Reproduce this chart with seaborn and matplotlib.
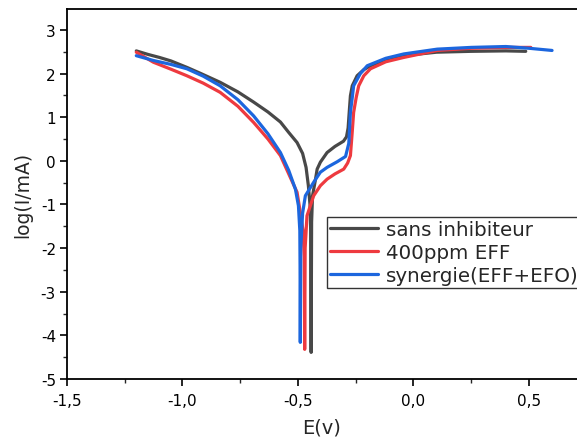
import matplotlib
matplotlib.use("Agg")
import matplotlib.pyplot as plt
from matplotlib.ticker import MultipleLocator, FuncFormatter
import numpy as np
import pandas as pd
import seaborn as sns

# Polarisation curves: potential E (V) and log of current density
E_sans = [-1.20, -1.15, -1.10, -1.05, -0.98, -0.92, -0.837, -0.76, -0.693, -0.63,
          -0.576, -0.54, -0.504, -0.48, -0.465, -0.455, -0.448, -0.445, -0.443,
          -0.441, -0.437, -0.425, -0.417, -0.403, -0.374, -0.34, -0.303, -0.29,
          -0.283, -0.277, -0.273, -0.265, -0.244, -0.215, -0.186, -0.12, -0.043,
          0.10, 0.25, 0.40, 0.486]
logI_sans = [2.52, 2.44, 2.37, 2.29, 2.14, 2.00, 1.80, 1.58, 1.35, 1.12,
             0.89, 0.65, 0.42, 0.17, -0.15, -0.57, -1.00, -1.60, -4.39,
             -1.40, -0.80, -0.45, -0.19, -0.03, 0.19, 0.33, 0.45, 0.55,
             0.75, 1.20, 1.49, 1.72, 1.95, 2.09, 2.18, 2.31, 2.41,
             2.49, 2.51, 2.52, 2.51]

E_eff = [-1.20, -1.126, -1.05, -0.981, -0.91, -0.837, -0.76, -0.692, -0.63, -0.576,
         -0.54, -0.504, -0.49, -0.478, -0.473, -0.471, -0.469, -0.461, -0.432,
         -0.403, -0.374, -0.34, -0.302, -0.285, -0.273, -0.266, -0.259, -0.248,
         -0.237, -0.215, -0.186, -0.12, -0.042, 0.103, 0.25, 0.40, 0.508]
logI_eff = [2.49, 2.26, 2.10, 1.95, 1.78, 1.57, 1.25, 0.88, 0.50, 0.12,
            -0.30, -0.72, -1.18, -1.60, -2.20, -4.32, -2.00, -1.26, -0.80,
            -0.57, -0.42, -0.30, -0.19, -0.05, 0.12, 0.60, 1.11, 1.45,
            1.72, 1.95, 2.11, 2.27, 2.37, 2.53, 2.58, 2.60, 2.60]

E_syn = [-1.20, -1.126, -1.05, -0.981, -0.91, -0.837, -0.76, -0.692, -0.63, -0.576,
         -0.54, -0.511, -0.498, -0.492, -0.491, -0.490, -0.488, -0.480, -0.468,
         -0.432, -0.403, -0.374, -0.33, -0.294, -0.280, -0.273, -0.265, -0.259,
         -0.23, -0.200, -0.12, -0.042, 0.103, 0.25, 0.40, 0.50, 0.60]
logI_syn = [2.41, 2.30, 2.21, 2.11, 1.94, 1.72, 1.40, 1.03, 0.62, 0.19,
            -0.22, -0.65, -1.03, -1.60, -2.40, -4.16, -2.00, -1.20, -0.80,
            -0.49, -0.26, -0.15, -0.02, 0.10, 0.40, 1.11, 1.45, 1.72,
            2.00, 2.18, 2.35, 2.45, 2.56, 2.60, 2.62, 2.58, 2.53]

series_names = ["sans inhibiteur", "400ppm EFF", "synergie(EFF+EFO)"]
series_colors = ["#484848", "#ee3a3f", "#1c66de"]

x_ticks = [-1.5, -1.0, -0.5, 0.0, 0.5]
y_ticks = [-5, -4, -3, -2, -1, 0, 1, 2, 3]

frames = []
for name, E, L in zip(series_names, [E_sans, E_eff, E_syn],
                      [logI_sans, logI_eff, logI_syn]):
    frames.append(pd.DataFrame({"E": E, "logI": L, "serie": name,
                                "order": np.arange(len(E))}))
df = pd.concat(frames, ignore_index=True)

sns.set_style("white")
plt.rcParams["font.family"] = ["DejaVu Sans"]
plt.rcParams["axes.unicode_minus"] = False

fig = plt.figure(figsize=(5.77, 4.39), dpi=100)
ax = fig.add_axes([67 / 577, (439 - 380) / 439, (577 - 67) / 577, 370 / 439])

sns.lineplot(data=df, x="E", y="logI", hue="serie", hue_order=series_names,
             palette=series_colors, sort=False, estimator=None, units="serie",
             linewidth=2.3, ax=ax, legend=True)

ax.set_xlim(-1.5, 0.708)
ax.set_ylim(-5, 3.48)
ax.set_xticks(x_ticks)
ax.set_yticks(y_ticks)
ax.xaxis.set_minor_locator(MultipleLocator(0.25))
ax.yaxis.set_minor_locator(MultipleLocator(0.5))
ax.xaxis.set_major_formatter(FuncFormatter(lambda v, p: f"{v:.1f}".replace(".", ",")))
ax.yaxis.set_major_formatter(FuncFormatter(lambda v, p: f"{v:.0f}"))

ax.tick_params(axis="both", which="major", direction="out", length=5, width=1.2,
               labelsize=11, colors="black", bottom=True, left=True,
               top=False, right=False, pad=3)
ax.tick_params(axis="x", which="major", pad=5)
ax.tick_params(axis="both", which="minor", direction="out", length=3, width=1.0,
               bottom=True, left=True, top=False, right=False)

for side in ["left", "bottom", "top"]:
    ax.spines[side].set_visible(True)
    ax.spines[side].set_color("black")
    ax.spines[side].set_linewidth(1.3)
ax.spines["right"].set_visible(False)

ax.set_xlabel("E(v)", fontsize=14, labelpad=7)
ax.set_ylabel("log(I/mA)", fontsize=13.5, labelpad=6)

leg = ax.legend(loc="upper left", bbox_to_anchor=(327 / 577, 1 - 218 / 439),
                bbox_transform=fig.transFigure, fontsize=14.3, frameon=True,
                fancybox=False, edgecolor="black", handlelength=2.4,
                borderpad=0.15, labelspacing=0.2, handletextpad=0.4,
                borderaxespad=0)
leg.get_frame().set_linewidth(1.0)
for line in leg.get_lines():
    line.set_linewidth(2.3)

fig.savefig("out.png", dpi=100)
